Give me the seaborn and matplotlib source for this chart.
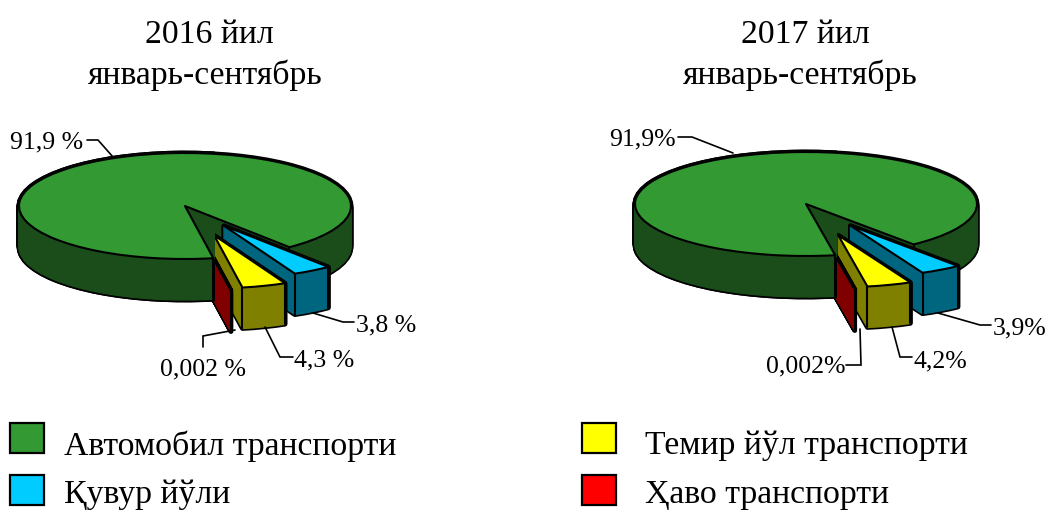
import numpy as np
import matplotlib
matplotlib.use("Agg")
import matplotlib.pyplot as plt
import seaborn as sns
from matplotlib.patches import Rectangle

# Slices in drawing order round the pie: road, air, rail, pipeline
values_2016 = [91.9, 0.002, 4.3, 3.8]
values_2017 = [91.9, 0.002, 4.2, 3.9]
labels_2016 = ["91,9 %", "0,002 %", "4,3 %", "3,8 %"]
labels_2017 = ["91,9%", "0,002%", "4,2%", "3,9%"]
titles_2016 = ["2016 йил", "январь-сентябрь"]
titles_2017 = ["2017 йил", "январь-сентябрь"]
legend_names = ["Автомобил транспорти", "Ҳаво транспорти", "Темир йўл транспорти", "Қувур йўли"]

face_colors = ["#339933", "#FF0000", "#FFFF00", "#00CCFF"]
side_colors = ["#1A4D1A", "#800000", "#808000", "#006680"]

W, H = 1048, 511
START = -51
DEPTH_PX = 41
# back-to-front rank of each slice
RANK = [0, 3, 1.5, 1]

sns.set_theme(style="white")
plt.rcParams["font.family"] = ["Liberation Serif", "DejaVu Serif"]

fig = plt.figure(figsize=(W / 100, H / 100), dpi=100, facecolor="white")


def draw_layers(ax, values, explode, depth, keep, z_shift=0, clip=None):
    """Stack flat pies downwards to fake the extruded wall, then add the top."""
    layers = np.arange(DEPTH_PX, -1, -1) / DEPTH_PX * depth

    def pie_at(offset, colors, **props):
        wedges, _ = ax.pie(values, explode=explode, colors=colors, startangle=START,
                           center=(0, -offset), labeldistance=None,
                           wedgeprops=dict(joinstyle="round", **props))
        for i, w in enumerate(wedges):
            w.set_visible(i in keep)
            if clip is not None:
                # pie switches clipping off for its wedges
                w.set_clip_on(True)
                w.set_clip_path(clip)
        return wedges

    for off in layers:
        for i, w in enumerate(pie_at(off, side_colors, edgecolor="black", linewidth=3.4)):
            w.set_zorder(RANK[i] * 10 + 1 + z_shift)
    for off in layers:
        wedges = pie_at(off, side_colors, linewidth=1.0)
        for i, w in enumerate(wedges):
            w.set_edgecolor(side_colors[i])
            w.set_zorder(RANK[i] * 10 + 2 + z_shift)

    # vertical edges of the walls
    for i, w in enumerate(wedges):
        if i not in keep:
            continue
        for theta in (w.theta1, w.theta2):
            x = w.center[0] + w.r * np.cos(np.radians(theta))
            y = w.center[1] + w.r * np.sin(np.radians(theta))
            line = ax.plot([x, x], [y, y - depth], color="black", lw=1.5,
                           zorder=RANK[i] * 10 + 3 + z_shift)[0]
            if clip is not None:
                line.set_clip_path(clip)

    top = pie_at(0, face_colors, edgecolor="black", linewidth=1.5)
    for i, w in enumerate(top):
        w.set_zorder(RANK[i] * 10 + 4 + z_shift)
    return top


def draw_pie(values, explode, cx, cy, rx, ry):
    ax = fig.add_axes([0, 0, 1, 1], facecolor="none")
    depth = DEPTH_PX / ry
    top = draw_layers(ax, values, explode, depth, keep={0, 1, 2, 3})

    # the air sliver passes behind the near wall of the big slice, so that part goes on top again
    corner = top[0].r * np.cos(np.radians(top[0].theta2)) + 0.012
    clip = Rectangle((-2, -4), 2 + corner, 8, transform=ax.transData)
    draw_layers(ax, values, explode, depth, keep={0}, z_shift=40, clip=clip)

    ax.set_aspect("auto")
    ax.set_xlim(-cx / rx, (W - cx) / rx)
    ax.set_ylim((cy - H) / ry, cy / ry)
    ax.axis("off")


draw_pie(values_2016, [0, 0.62, 0.58, 0.44], 185, 206, 166, 53)
draw_pie(values_2017, [0, 0.67, 0.63, 0.49], 806, 204, 171, 52)

# Overlay in pixel coordinates for text, leader lines and the legend
ov = fig.add_axes([0, 0, 1, 1], facecolor="none", zorder=10)
ov.set_xlim(0, W)
ov.set_ylim(H, 0)
ov.axis("off")

for title, x, y in [(titles_2016[0], 209, 35), (titles_2016[1], 205, 75),
                    (titles_2017[0], 805, 35), (titles_2017[1], 800, 75)]:
    ov.text(x, y, title, ha="center", va="center", fontsize=24.3, color="black")

leaders = [
    ([87, 98, 113], [140, 140, 157]),
    ([313, 343, 354], [313, 322, 322]),
    ([265, 280, 293], [327, 357, 357]),
    ([235, 203, 203], [330, 336, 347]),
    ([678, 692, 733], [137, 137, 153]),
    ([938, 980, 991], [313, 325, 325]),
    ([892, 900, 912], [327, 357, 357]),
    ([860, 861, 846], [329, 365, 365]),
]
for xs, ys in leaders:
    ov.plot(xs, ys, color="black", lw=1.2, solid_joinstyle="miter")

label_pos = [(10, 142, labels_2016[0]), (356, 325, labels_2016[3]), (294, 360, labels_2016[2]),
             (160, 369, labels_2016[1]), (609, 139, labels_2017[0]), (993, 328, labels_2017[3]),
             (913, 361, labels_2017[2]), (766, 366, labels_2017[1])]
for x, y, txt in label_pos:
    ov.text(x, y, txt, ha="left", va="center", fontsize=18.5, color="black")

# box x, box y, text x, text y, legend entry
legend_pos = [(10, 423, 64, 446, 0), (582, 475, 645, 495, 1),
              (582, 423, 645, 446, 2), (10, 475, 64, 495, 3)]
for bx, by, tx, ty, idx in legend_pos:
    ov.add_patch(Rectangle((bx, by), 34, 30, facecolor=face_colors[idx],
                           edgecolor="black", linewidth=1.6))
    ov.text(tx, ty, legend_names[idx], ha="left", va="center", fontsize=24.3, color="black")

fig.savefig("out.png", dpi=100)
